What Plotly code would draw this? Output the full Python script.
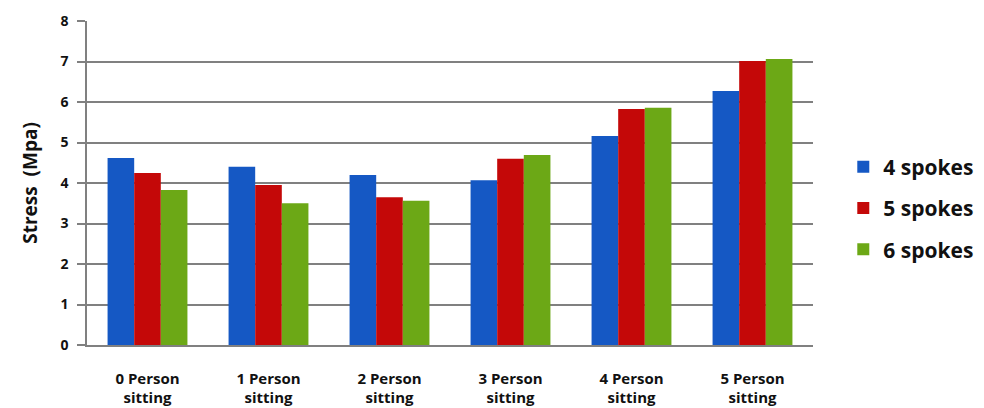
import plotly.graph_objects as go

categories = ["0 Person<br>sitting", "1 Person<br>sitting", "2 Person<br>sitting",
              "3 Person<br>sitting", "4 Person<br>sitting", "5 Person<br>sitting"]
series_names = ["4 spokes", "5 spokes", "6 spokes"]
spokes4 = [4.62, 4.40, 4.20, 4.07, 5.16, 6.27]
spokes5 = [4.25, 3.95, 3.65, 4.60, 5.83, 7.01]
spokes6 = [3.83, 3.50, 3.56, 4.69, 5.86, 7.06]
y_ticks = [0, 1, 2, 3, 4, 5, 6, 7, 8]

colors = ["#1558c4", "#c40808", "#6ca816"]
font_family = "'Open Sans', Lato, sans-serif"

fig = go.Figure()
for name, vals, col in zip(series_names, [spokes4, spokes5, spokes6], colors):
    fig.add_trace(go.Bar(
        x=categories, y=vals, name=name, legendgroup=name,
        marker=dict(color=col, line=dict(width=0)),
    ))

fig.update_layout(
    width=984, height=408,
    margin=dict(l=87, r=171, t=21, b=63, autoexpand=False),
    paper_bgcolor="white", plot_bgcolor="white",
    barmode="group", bargap=0.34, bargroupgap=0,
    font=dict(family=font_family, color="#111111"),
    legend=dict(
        xref="container", yref="container",
        x=0.857, y=0.49, xanchor="left", yanchor="middle",
        font=dict(size=21, family=font_family, color="#111111", weight="bold"),
        tracegroupgap=11, itemwidth=30,
    ),
    showlegend=True,
)
fig.update_yaxes(
    range=[0, 8], tickvals=y_ticks, ticktext=[str(t) for t in y_ticks],
    showgrid=True, gridcolor="#808080", gridwidth=1.5,
    showline=True, linecolor="#808080", linewidth=1.5,
    ticks="outside", ticklen=8, tickcolor="#808080", tickwidth=1.5,
    tickfont=dict(size=14, family=font_family, weight="bold"),
    ticklabelstandoff=6,
    title=dict(text="Stress  (Mpa)", font=dict(size=19, family=font_family, weight="bold"), standoff=18),
    zeroline=False, automargin=False,
)
fig.update_xaxes(
    showline=True, linecolor="#808080", linewidth=1.5,
    tickfont=dict(size=15, family=font_family, weight="bold"),
    ticks="", ticklabelstandoff=19, automargin=False,
)

fig.write_html("out.html")
